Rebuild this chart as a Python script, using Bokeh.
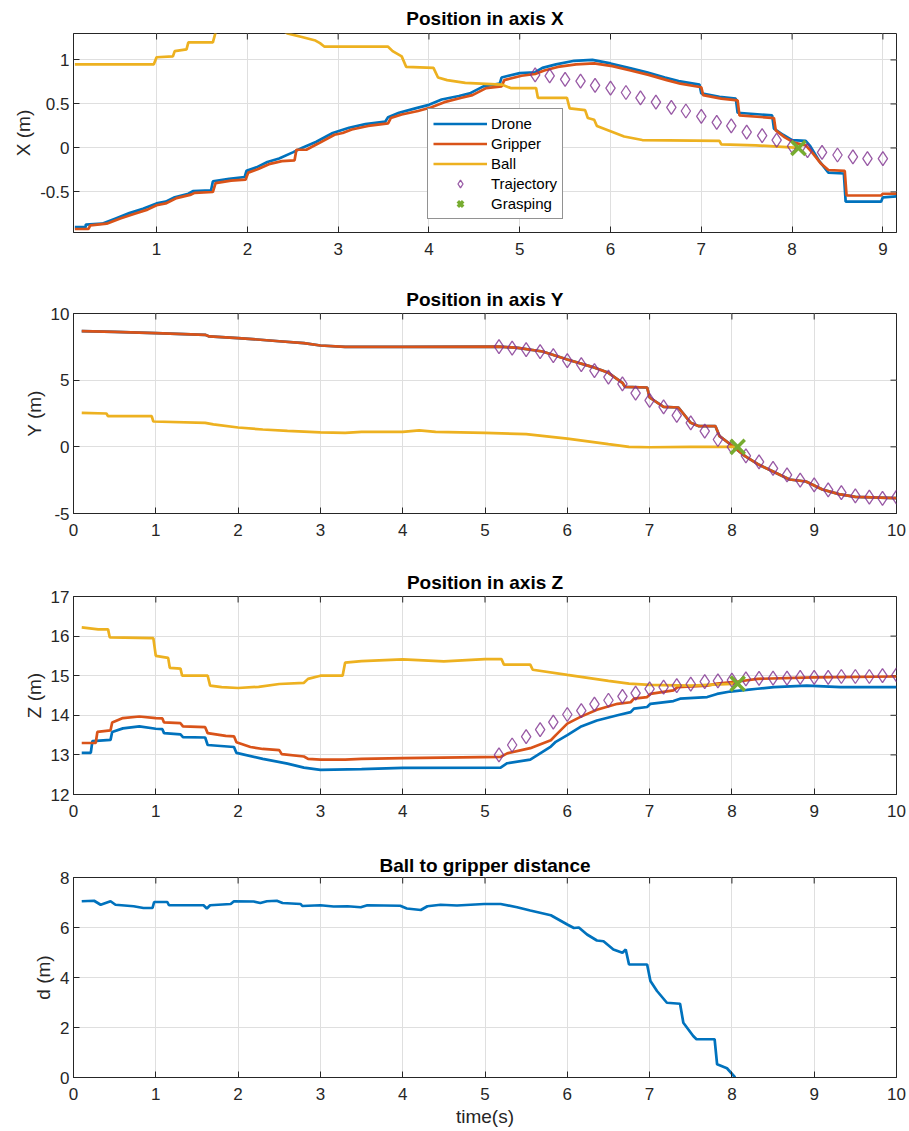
import math
from bokeh.plotting import figure
from bokeh.models import Range1d, FixedTicker, CustomJSTickFormatter
from bokeh.layouts import column
from bokeh.embed import file_html
from bokeh.resources import INLINE

# ---------------- data ----------------
# Position in axis X
drone_x_t = [0.10, 0.22, 0.22, 0.40, 0.55, 0.70, 0.85, 1.00, 1.10, 1.20, 1.35, 1.40, 1.60, 1.62, 1.80,
             1.97, 1.99, 2.10, 2.22, 2.35, 2.50, 2.60, 2.76, 2.94, 3.00, 3.12, 3.30, 3.52, 3.55, 3.67,
             3.85, 4.00, 4.14, 4.33, 4.45, 4.60, 4.78, 4.80, 5.00, 5.17, 5.25, 5.40, 5.60, 5.80, 6.00,
             6.20, 6.40, 6.60, 6.75, 6.98, 7.00, 7.20, 7.38, 7.40, 7.78, 7.80, 7.90, 8.00, 8.15, 8.20,
             8.30, 8.40, 8.57, 8.59, 8.98, 9.00, 9.15]
drone_x = [-0.90, -0.90, -0.87, -0.86, -0.80, -0.74, -0.69, -0.63, -0.61, -0.56, -0.52, -0.49, -0.48, -0.38, -0.35,
           -0.33, -0.26, -0.22, -0.16, -0.12, -0.05, 0.00, 0.07, 0.17, 0.19, 0.23, 0.27, 0.30, 0.35, 0.40,
           0.45, 0.49, 0.55, 0.59, 0.62, 0.70, 0.73, 0.80, 0.85, 0.86, 0.91, 0.95, 0.99, 1.00, 0.96,
           0.91, 0.86, 0.80, 0.76, 0.72, 0.62, 0.58, 0.56, 0.40, 0.37, 0.22, 0.15, 0.09, 0.08, 0.02,
           -0.15, -0.28, -0.29, -0.61, -0.61, -0.56, -0.55]

gripper_x_t = [0.10, 0.25, 0.27, 0.45, 0.60, 0.75, 0.90, 1.00, 1.10, 1.22, 1.38, 1.42, 1.62, 1.65, 1.82,
               1.98, 2.01, 2.12, 2.25, 2.38, 2.52, 2.54, 2.65, 2.78, 2.96, 3.05, 3.15, 3.33, 3.55, 3.58,
               3.70, 3.88, 4.02, 4.17, 4.36, 4.48, 4.63, 4.80, 4.83, 5.02, 5.17, 5.27, 5.42, 5.62, 5.82,
               6.02, 6.22, 6.42, 6.62, 6.77, 7.00, 7.02, 7.22, 7.40, 7.42, 7.80, 7.82, 7.92, 8.02, 8.15,
               8.22, 8.32, 8.40, 8.58, 8.60, 8.98, 9.00, 9.15]
gripper_x = [-0.92, -0.92, -0.88, -0.86, -0.80, -0.75, -0.70, -0.65, -0.63, -0.57, -0.53, -0.51, -0.50, -0.40, -0.37,
             -0.36, -0.28, -0.24, -0.18, -0.15, -0.14, -0.02, -0.02, 0.05, 0.15, 0.17, 0.21, 0.25, 0.28, 0.34,
             0.38, 0.42, 0.46, 0.52, 0.57, 0.60, 0.68, 0.70, 0.77, 0.82, 0.84, 0.88, 0.92, 0.95, 0.96,
             0.93, 0.88, 0.83, 0.77, 0.73, 0.69, 0.60, 0.56, 0.54, 0.37, 0.34, 0.20, 0.12, 0.06, 0.03,
             -0.05, -0.18, -0.25, -0.26, -0.54, -0.54, -0.52, -0.52]

ball_x_t = [0.10, 0.97, 1.00, 1.18, 1.20, 1.33, 1.35, 1.62, 1.66, 2.00, 2.30, 2.44, 2.60, 2.75, 2.80,
            2.85, 3.55, 3.60, 3.70, 3.75, 4.05, 4.10, 4.20, 4.40, 4.80, 4.90, 5.18, 5.20, 5.52, 5.55,
            5.72, 5.75, 5.82, 5.85, 6.00, 6.15, 6.35, 7.20, 7.22, 7.60, 8.07]
ball_x = [0.95, 0.95, 1.03, 1.04, 1.10, 1.12, 1.20, 1.20, 1.35, 1.45, 1.40, 1.30, 1.26, 1.22, 1.19,
          1.15, 1.15, 1.10, 1.04, 0.92, 0.91, 0.80, 0.77, 0.74, 0.72, 0.68, 0.68, 0.57, 0.57, 0.45,
          0.43, 0.34, 0.32, 0.25, 0.19, 0.13, 0.09, 0.08, 0.04, 0.03, 0.00]

traj_t = [5.17, 5.33, 5.50, 5.67, 5.83, 6.00, 6.17, 6.33, 6.50, 6.67, 6.83, 7.00, 7.17, 7.33, 7.50,
          7.67, 7.83, 8.00, 8.17, 8.33, 8.50, 8.67, 8.83, 9.00, 9.17, 9.33, 9.50, 9.67, 9.83, 10.00]
traj_x = [0.83, 0.82, 0.78, 0.76, 0.71, 0.68, 0.63, 0.57, 0.52, 0.46, 0.42, 0.36, 0.29, 0.25, 0.18,
          0.14, 0.09, 0.02, -0.03, -0.05, -0.08, -0.10, -0.12, -0.12]
traj_y = [7.51, 7.41, 7.29, 7.14, 6.84, 6.47, 6.17, 5.72, 5.22, 4.73, 4.03, 3.48, 2.99, 2.36, 1.79,
          1.17, 0.55, 0.00, -0.67, -1.12, -1.62, -2.11, -2.49, -2.86, -3.23, -3.43, -3.68, -3.78, -3.86, -3.78]
traj_z = [13.00, 13.25, 13.46, 13.64, 13.83, 14.02, 14.12, 14.28, 14.38, 14.48, 14.56, 14.67, 14.71, 14.75, 14.79,
          14.85, 14.87, 14.89, 14.92, 14.93, 14.94, 14.94, 14.96, 14.96, 14.96, 14.98, 14.98, 14.98, 15.00, 15.02]

grasp_t = [8.07]
grasp_x = [0.00]
grasp_y = [0.00]
grasp_z = [14.80]

# Position in axis Y (drone and gripper coincide)
gripper_y_t = [0.10, 0.50, 1.00, 1.60, 1.65, 2.00, 2.50, 2.80, 3.00, 3.30, 4.00, 5.17, 5.40, 5.70, 6.00,
               6.30, 6.50, 6.67, 6.70, 6.97, 7.00, 7.17, 7.35, 7.50, 7.60, 7.80, 7.85, 8.00, 8.16, 8.33,
               8.50, 8.70, 8.90, 9.10, 9.30, 9.50, 10.00]
gripper_y = [8.68, 8.62, 8.53, 8.40, 8.28, 8.16, 7.92, 7.78, 7.60, 7.50, 7.50, 7.52, 7.42, 7.15, 6.55,
             6.00, 5.55, 4.80, 4.50, 4.45, 3.70, 3.00, 2.95, 1.80, 1.55, 1.55, 0.80, 0.10, -0.70, -1.35,
             -1.85, -2.45, -2.60, -3.20, -3.55, -3.75, -3.85]
drone_y_t = gripper_y_t
drone_y = gripper_y

ball_y_t = [0.10, 0.40, 0.42, 0.95, 0.97, 1.60, 1.70, 2.00, 2.30, 2.60, 3.00, 3.30, 3.50, 4.00, 4.20,
            4.40, 5.00, 5.50, 6.00, 6.50, 6.75, 7.00, 7.50, 8.07]
ball_y = [2.55, 2.50, 2.30, 2.30, 1.90, 1.80, 1.68, 1.45, 1.30, 1.20, 1.08, 1.05, 1.12, 1.12, 1.24,
          1.12, 1.05, 0.95, 0.62, 0.20, 0.00, -0.03, 0.00, 0.00]

# Position in axis Z
drone_z_t = [0.10, 0.21, 0.23, 0.45, 0.47, 0.60, 0.80, 1.00, 1.08, 1.10, 1.30, 1.33, 1.60, 1.63, 1.95,
             1.98, 2.30, 2.60, 2.80, 3.00, 3.50, 4.00, 5.19, 5.27, 5.55, 5.80, 5.86, 6.00, 6.16, 6.36,
             6.61, 6.77, 6.81, 6.97, 7.01, 7.29, 7.37, 7.70, 7.82, 7.98, 8.18, 8.31, 8.51, 8.91, 9.32, 10.00]
drone_z = [13.05, 13.05, 13.35, 13.38, 13.58, 13.67, 13.72, 13.66, 13.65, 13.55, 13.52, 13.45, 13.44, 13.25, 13.20,
           13.05, 12.90, 12.78, 12.68, 12.62, 12.64, 12.67, 12.68, 12.79, 12.88, 13.21, 13.33, 13.50, 13.71, 13.87,
           14.00, 14.08, 14.17, 14.21, 14.29, 14.36, 14.42, 14.46, 14.54, 14.60, 14.64, 14.67, 14.71, 14.75, 14.71, 14.71]

gripper_z_t = [0.10, 0.27, 0.29, 0.45, 0.47, 0.60, 0.80, 1.00, 1.08, 1.10, 1.30, 1.33, 1.60, 1.63, 1.85,
               1.95, 1.98, 2.15, 2.30, 2.50, 2.53, 2.80, 2.85, 3.00, 3.30, 3.50, 4.00, 5.19, 5.27, 5.55,
               5.80, 5.86, 6.00, 6.16, 6.36, 6.61, 6.77, 6.81, 6.97, 7.01, 7.29, 7.34, 7.70, 7.82, 8.10,
               8.31, 9.00, 10.00]
gripper_z = [13.30, 13.30, 13.58, 13.62, 13.82, 13.93, 13.97, 13.93, 13.92, 13.82, 13.80, 13.72, 13.70, 13.55, 13.48,
             13.47, 13.32, 13.20, 13.15, 13.12, 13.02, 12.96, 12.90, 12.88, 12.88, 12.90, 12.92, 12.95, 13.04, 13.17,
             13.37, 13.50, 13.79, 13.96, 14.14, 14.29, 14.33, 14.42, 14.46, 14.54, 14.63, 14.71, 14.75, 14.80, 14.86,
             14.92, 14.96, 14.98]

ball_z_t = [0.10, 0.30, 0.42, 0.44, 0.97, 1.00, 1.15, 1.17, 1.30, 1.32, 1.63, 1.66, 1.80, 2.00, 2.25,
            2.50, 2.80, 2.85, 3.00, 3.27, 3.30, 3.50, 4.00, 4.50, 5.00, 5.20, 5.23, 5.55, 5.58, 6.00,
            6.50, 6.75, 7.00, 7.50, 8.07]
ball_z = [16.22, 16.17, 16.17, 15.97, 15.95, 15.50, 15.45, 15.20, 15.18, 15.00, 15.00, 14.75, 14.71, 14.69, 14.72,
          14.79, 14.82, 14.92, 15.00, 15.00, 15.33, 15.37, 15.41, 15.36, 15.42, 15.42, 15.28, 15.28, 15.15, 15.02,
          14.87, 14.80, 14.77, 14.75, 14.80]

# Ball to gripper distance
dist_t = [0.10, 0.25, 0.33, 0.45, 0.51, 0.73, 0.85, 0.96, 0.98, 1.14, 1.16, 1.58, 1.62, 1.66, 1.91,
          1.95, 2.19, 2.27, 2.35, 2.47, 2.54, 2.76, 2.78, 3.00, 3.16, 3.33, 3.49, 3.57, 3.97, 4.05,
          4.22, 4.30, 4.46, 4.66, 4.99, 5.19, 5.39, 5.55, 5.80, 6.00, 6.08, 6.14, 6.24, 6.36, 6.44,
          6.56, 6.67, 6.71, 6.75, 6.97, 7.01, 7.09, 7.21, 7.37, 7.41, 7.53, 7.57, 7.79, 7.82, 7.94, 8.04]
dist = [7.05, 7.07, 6.91, 7.05, 6.91, 6.85, 6.78, 6.78, 7.02, 7.02, 6.89, 6.89, 6.76, 6.89, 6.94,
        7.05, 7.04, 6.98, 7.05, 7.07, 6.98, 6.94, 6.86, 6.89, 6.84, 6.85, 6.81, 6.89, 6.87, 6.76,
        6.70, 6.85, 6.91, 6.88, 6.94, 6.94, 6.81, 6.68, 6.49, 6.12, 5.98, 6.00, 5.72, 5.48, 5.45,
        5.12, 4.99, 5.12, 4.52, 4.52, 3.86, 3.46, 2.99, 2.95, 2.19, 1.66, 1.53, 1.53, 0.53, 0.37, 0.00]

# ---------------- styling ----------------
FONT = "Liberation Sans"
AX = "#262626"
GRID = "#dfdfdf"
C_DRONE, C_GRIP, C_BALL = "#0072BD", "#D95319", "#EDB120"
C_TRAJ, C_GRASP = "#7E2F8E", "#77AC30"
LW = 2.7
TICK = 6
FMT = "return tick.toString();"


def make_fig(height, top, bottom, xr, yr, xticks, yticks, title, ylabel, standoff, xlabel=None):
    p = figure(width=909, height=height, x_range=Range1d(*xr), y_range=Range1d(*yr),
               output_backend="svg", toolbar_location=None,
               min_border_left=73, min_border_right=13, min_border_top=top, min_border_bottom=bottom,
               title=title)
    p.title.text_font = FONT
    p.title.text_font_size = "19px"
    p.title.text_font_style = "bold"
    p.title.text_color = "black"
    p.title.align = "center"
    p.title.standoff = standoff
    p.outline_line_color = AX
    p.outline_line_width = 1
    p.background_fill_color = "white"
    p.border_fill_color = "white"
    for ax, ticks in ((p.xaxis[0], xticks), (p.yaxis[0], yticks)):
        ax.ticker = FixedTicker(ticks=ticks)
        ax.formatter = CustomJSTickFormatter(code=FMT)
        ax.major_label_text_font = FONT
        ax.major_label_text_font_size = "17px"
        ax.major_label_text_color = AX
        ax.major_tick_in = TICK
        ax.major_tick_out = 0
        ax.major_tick_line_color = AX
        ax.minor_tick_line_color = None
        ax.axis_line_color = AX
        ax.axis_label_text_font = FONT
        ax.axis_label_text_font_size = "19px"
        ax.axis_label_text_font_style = "normal"
        ax.axis_label_text_color = AX
        ax.axis_label_standoff = 3
    p.xaxis.major_label_standoff = 10
    p.yaxis.major_label_standoff = 4
    p.yaxis.axis_label = ylabel
    if xlabel:
        p.xaxis.axis_label = xlabel
    p.xgrid.grid_line_color = GRID
    p.ygrid.grid_line_color = GRID
    # mirrored ticks on the top and right edges of the box
    p.ray(x=xticks, y=[yr[1]] * len(xticks), length=TICK, length_units="screen",
          angle=-math.pi / 2, line_color=AX, line_width=1)
    p.ray(x=[xr[1]] * len(yticks), y=yticks, length=TICK, length_units="screen",
          angle=math.pi, line_color=AX, line_width=1)
    return p


def traj(p, x, y, **kw):
    p.scatter(x, y, marker="diamond", size=14, fill_color=None,
              line_color=C_TRAJ, line_width=1.3, line_alpha=0.8, **kw)


def grasp(p, x, y, **kw):
    p.scatter(x, y, marker="x", size=20, line_color=C_GRASP, line_width=3.5, **kw)


# ---- plot X
p1 = make_fig(283, 33, 51, (0.085, 9.15), (-0.96, 1.30), [1, 2, 3, 4, 5, 6, 7, 8, 9],
              [-0.5, 0, 0.5, 1], "Position in axis X", "X (m)", 9)
p1.line(drone_x_t, drone_x, line_color=C_DRONE, line_width=LW, legend_label="Drone")
p1.line(gripper_x_t, gripper_x, line_color=C_GRIP, line_width=LW, legend_label="Gripper")
p1.line(ball_x_t, ball_x, line_color=C_BALL, line_width=LW, legend_label="Ball")
traj(p1, traj_t[:len(traj_x)], traj_x, legend_label="Trajectory")
grasp(p1, grasp_t, grasp_x, legend_label="Grasping")
lg = p1.legend[0]
lg.location = (354, 13)
lg.margin = 0
lg.padding = 5
lg.spacing = 1
lg.label_height = 19
lg.glyph_height = 19
lg.glyph_width = 54
lg.label_standoff = 4
lg.label_text_font = FONT
lg.label_text_font_size = "15px"
lg.label_text_color = "black"
lg.border_line_color = AX
lg.border_line_width = 1
lg.background_fill_alpha = 1

# ---- plot Y
p2 = make_fig(282, 30, 52, (0, 10), (-5, 10), list(range(0, 11)), [-5, 0, 5, 10],
              "Position in axis Y", "Y (m)", 7)
p2.line(drone_y_t, drone_y, line_color=C_DRONE, line_width=LW)
p2.line(gripper_y_t, gripper_y, line_color=C_GRIP, line_width=LW)
p2.line(ball_y_t, ball_y, line_color=C_BALL, line_width=LW)
traj(p2, traj_t, traj_y)
grasp(p2, grasp_t, grasp_y)

# ---- plot Z
p3 = make_fig(285, 30, 56, (0, 10), (12, 17), list(range(0, 11)), [12, 13, 14, 15, 16, 17],
              "Position in axis Z", "Z (m)", 8)
p3.line(drone_z_t, drone_z, line_color=C_DRONE, line_width=LW)
p3.line(gripper_z_t, gripper_z, line_color=C_GRIP, line_width=LW)
p3.line(ball_z_t, ball_z, line_color=C_BALL, line_width=LW)
traj(p3, traj_t, traj_z)
grasp(p3, grasp_t, grasp_z)

# ---- distance
p4 = make_fig(281, 26, 54, (0, 10), (0, 8), list(range(0, 11)), [0, 2, 4, 6, 8],
              "Ball to gripper distance", "d (m)", 4, xlabel="time(s)")
p4.line(dist_t, dist, line_color=C_DRONE, line_width=LW)

layout = column(p1, p2, p3, p4, spacing=0)
open("out.html", "w").write(file_html(layout, INLINE))
